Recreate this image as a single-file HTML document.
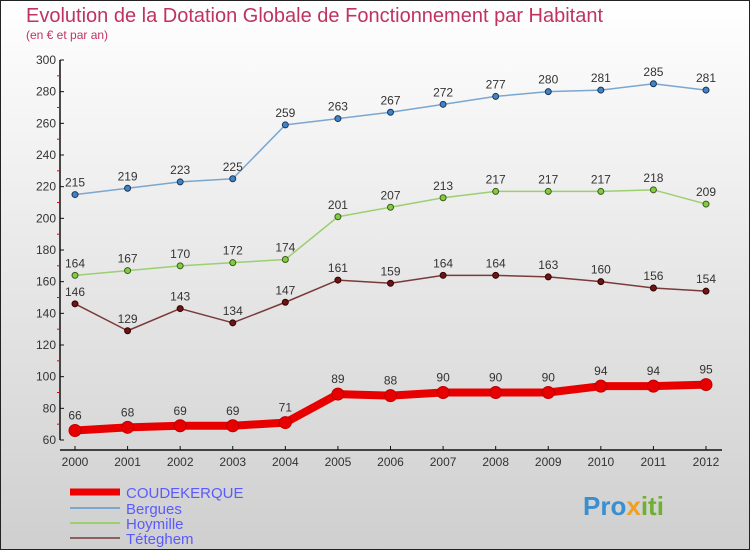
<!DOCTYPE html>
<html><head><meta charset="utf-8"><style>
body{margin:0}
svg{display:block;font-family:"Liberation Sans",sans-serif}
</style></head><body>
<svg id="c" width="750" height="550" xmlns="http://www.w3.org/2000/svg">
<defs><linearGradient id="bg" x1="0" y1="0" x2="0" y2="1"><stop offset="0" stop-color="#ffffff"/><stop offset="1" stop-color="#cfcfcf"/></linearGradient></defs>
<rect x="0.5" y="0.5" width="749" height="549" fill="url(#bg)" stroke="#222"/>
<text x="26" y="22" font-size="20" fill="#c0335f">Evolution de la Dotation Globale de Fonctionnement par Habitant</text>
<text x="26" y="39" font-size="12" fill="#c0335f">(en € et par an)</text>
<g id="axes"></g><g id="series"></g>
<g>
<line x1="70" y1="492" x2="120" y2="492" stroke="#e00" stroke-width="7"/>
<text x="126" y="498" font-size="15" fill="#5a5aff">COUDEKERQUE</text>
<line x1="70" y1="508" x2="120" y2="508" stroke="#7aa7cf" stroke-width="2"/>
<text x="126" y="514" font-size="15" fill="#5a5aff">Bergues</text>
<line x1="70" y1="523" x2="120" y2="523" stroke="#9ccf70" stroke-width="2"/>
<text x="126" y="529" font-size="15" fill="#5a5aff">Hoymille</text>
<line x1="70" y1="538" x2="120" y2="538" stroke="#8a6060" stroke-width="2"/>
<text x="126" y="544" font-size="15" fill="#5a5aff">Téteghem</text>
</g>
<g><text x="583" y="515" font-size="26" font-weight="bold" fill="#3a8fd0">Pro<tspan fill="#f0a020">x</tspan><tspan fill="#70b030">iti</tspan></text></g>
</svg>
<script>
const years=[2000,2001,2002,2003,2004,2005,2006,2007,2008,2009,2010,2011,2012];
const yTicks=[60,80,100,120,140,160,180,200,220,240,260,280,300];
const coudekerque=[66,68,69,69,71,89,88,90,90,90,94,94,95];
const bergues=[215,219,223,225,259,263,267,272,277,280,281,285,281];
const hoymille=[164,167,170,172,174,201,207,213,217,217,217,218,209];
const teteghem=[146,129,143,134,147,161,159,164,164,163,160,156,154];
const NS='http://www.w3.org/2000/svg';
const xS=i=>75+i*(706-75)/(years.length-1);
const yS=v=>440-(v-60)*(380/240);
function mk(t,a,p){const e=document.createElementNS(NS,t);for(const k in a)e.setAttribute(k,a[k]);p.appendChild(e);return e;}
const ax=document.getElementById('axes');
const ya=mk('line',{x1:60,y1:60,x2:60,y2:440,stroke:'#111','stroke-width':1.5},ax);


const xa=mk('line',{x1:60,y1:450,x2:722,y2:450,stroke:'#111','stroke-width':1.5},ax);


yTicks.forEach((v,i)=>{
 const y=yS(v);
 mk('line',{x1:60,y1:y,x2:64,y2:y,stroke:'#111'},ax);
 if(i<yTicks.length-1)mk('line',{x1:57,y1:y-(380/24),x2:60,y2:y-(380/24),stroke:'#e00'},ax);
 const t=mk('text',{x:56,y:y+4,'font-size':12,'text-anchor':'end',fill:'#333'},ax);
 t.textContent=v;
 
 
});
years.forEach((yr,i)=>{
 const x=xS(i);
 mk('line',{x1:x,y1:446,x2:x,y2:450,stroke:'#111'},ax);
 const t=mk('text',{x:x,y:466,'font-size':12,'text-anchor':'middle',fill:'#333'},ax);
 t.textContent=yr;
 
 
});
const sg=document.getElementById('series');
function series(name,vals,color,w,r,dot,ptStroke){
 const g=mk('g',{},sg);
 
 
 const pl=mk('polyline',{points:vals.map((v,i)=>xS(i)+','+yS(v)).join(' '),fill:'none',stroke:color,'stroke-width':w,'stroke-linejoin':'round'},g);
 
 
 vals.forEach((v,i)=>{
  const c=mk('circle',{cx:xS(i),cy:yS(v),r:r,fill:dot,stroke:ptStroke,'stroke-width':1},g);
  
  
  const t=mk('text',{x:xS(i),y:yS(v)-r-5,'font-size':12,'text-anchor':'middle',fill:'#333'},g);
  t.textContent=v;
  
  
 });
}
series('bergues',bergues,'#7aa7cf',1.5,3,'#3d85c6','#235');
series('hoymille',hoymille,'#9ccf70',1.5,3,'#7bd03c','#452');
series('teteghem',teteghem,'#7a3a3a',1.5,3,'#6b1515','#300');
series('coudekerque',coudekerque,'#e80000',8,6,'#e80000','#b00');
</script>
</body></html>
